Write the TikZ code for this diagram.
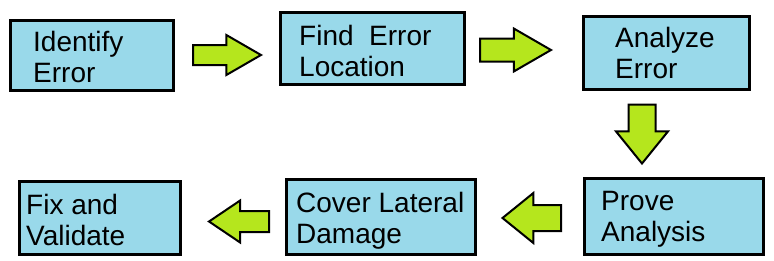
\documentclass[tikz,border=0pt]{standalone}
\usepackage{fontspec}
\setmainfont{Liberation Sans}
\usepackage{tikz}
\usetikzlibrary{shapes.arrows}
\definecolor{boxblue}{RGB}{153,217,234}
\definecolor{arrowlime}{RGB}{181,230,29}

\begin{document}
\begin{tikzpicture}[
    x=1pt, y=-1pt,
    stepbox/.style={rectangle, draw=black, fill=boxblue, line width=3pt, inner sep=0pt, outer sep=0pt},
    steptext/.style={anchor=base west, inner sep=0pt, align=left, font=\fontsize{28}{31}\selectfont},
    blockarrow/.style={single arrow, draw=black, fill=arrowlime, line width=2pt, outer sep=0pt,
        single arrow head indent=0pt, anchor=tip}
]
\useasboundingbox (0,0) rectangle (774,260);

% boxes
\node[stepbox, minimum width=163pt, minimum height=70pt] (identify) at (92,55.5) {};
\node[stepbox, minimum width=184pt, minimum height=72pt] (locate) at (372,48) {};
\node[stepbox, minimum width=166pt, minimum height=73pt] (analyze) at (666,52.5) {};
\node[stepbox, minimum width=179pt, minimum height=76pt] (prove) at (673.5,216) {};
\node[stepbox, minimum width=189pt, minimum height=75pt] (cover) at (380.5,216.5) {};
\node[stepbox, minimum width=161pt, minimum height=73pt] (fix) at (99.5,217.5) {};

% texts (anchored at the baseline of the last line)
\node[steptext] (identifytext) at (33,82) {Identify\\Error};
\node[steptext] (locatetext) at (299,76) {Find~~Error\\Location};
\node[steptext] (analyzetext) at (615,78) {Analyze\\Error};
\node[steptext] (provetext) at (601,241) {Prove\\Analysis};
\node[steptext] (covertext) at (296,243) {Cover Lateral\\Damage};
\node[steptext] (fixtext) at (26,245) {Fix and\\Validate};

% block arrows
\node[blockarrow, inner sep=9pt, minimum height=68pt, single arrow head extend=10pt, single arrow tip angle=60] (toLocate) at (261,55) {};
\node[blockarrow, inner sep=10.5pt, minimum height=71pt, single arrow head extend=10pt, single arrow tip angle=60] (toAnalyze) at (551,50) {};
\node[blockarrow, inner sep=12.5pt, minimum height=59pt, single arrow head extend=12.5pt, single arrow tip angle=78, shape border rotate=270] (toProve) at (642,163.5) {};
\node[blockarrow, inner sep=12pt, minimum height=58.5pt, single arrow head extend=12pt, single arrow tip angle=78, shape border rotate=180] (toCover) at (502.5,218) {};
\node[blockarrow, inner sep=9.5pt, minimum height=60pt, single arrow head extend=10.5pt, single arrow tip angle=68, shape border rotate=180] (toFix) at (209,221.5) {};

\end{tikzpicture}
\end{document}
